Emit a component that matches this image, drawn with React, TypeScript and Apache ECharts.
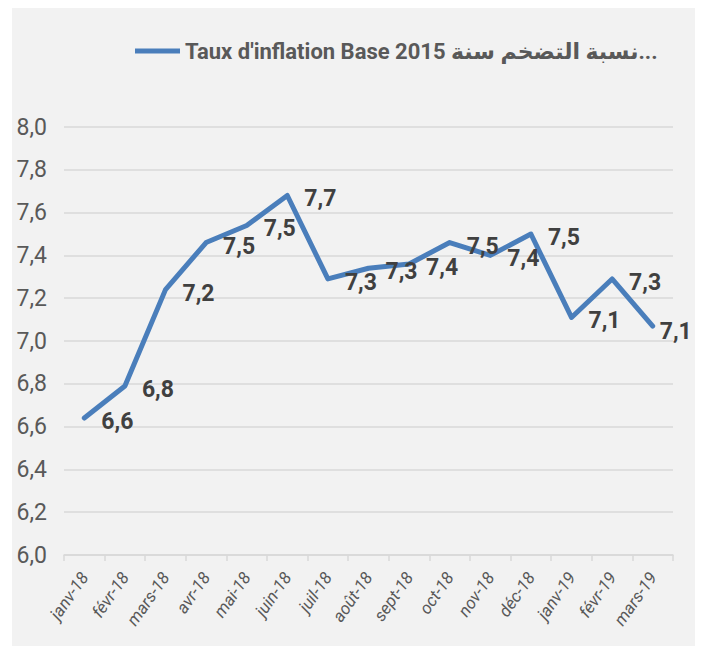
import React, { useEffect, useRef } from "react";
import * as echarts from "echarts";

const categories = [
  "janv-18", "févr-18", "mars-18", "avr-18", "mai-18", "juin-18", "juil-18",
  "août-18", "sept-18", "oct-18", "nov-18", "déc-18", "janv-19", "févr-19", "mars-19",
];
const values = [6.64, 6.79, 7.24, 7.46, 7.54, 7.68, 7.29, 7.34, 7.36, 7.46, 7.4, 7.5, 7.11, 7.29, 7.07];
const dataLabels = ["6,6", "6,8", "7,2", "7,5", "7,5", "7,7", "7,3", "7,3", "7,4", "7,5", "7,4", "7,5", "7,1", "7,3", "7,1"];
const seriesName = "Taux d'inflation Base 2015 نسبة التضخم سنة...";
const yMin = 6;
const yMax = 8;
const yInterval = 0.2;

const FONT = "Roboto, 'DejaVu Sans', sans-serif";

export default function App() {
  const ref = useRef<HTMLDivElement>(null);
  useEffect(() => {
    if (!ref.current) return;
    const chart = echarts.init(ref.current, undefined, { renderer: "svg" });
    const last = values.length - 1;
    chart.setOption({
      animation: false,
      backgroundColor: "#f2f2f2",
      textStyle: { fontFamily: FONT },
      legend: {
        show: true,
        top: 27,
        left: 118,
        icon: "rect",
        itemWidth: 45,
        itemHeight: 5,
        itemGap: 10,
        textStyle: { fontSize: 22, fontWeight: "bold", color: "#595959", fontFamily: FONT },
        data: [seriesName],
      },
      grid: { left: 52, right: 24, top: 119, bottom: 91, containLabel: false },
      xAxis: {
        type: "category",
        data: categories,
        boundaryGap: true,
        axisLine: { show: true, lineStyle: { color: "#d9d9d9", width: 1.5 } },
        axisTick: { show: true, length: 6, lineStyle: { color: "#d9d9d9", width: 1.5 } },
        axisLabel: {
          rotate: 55,
          margin: 19,
          fontSize: 17,
          fontStyle: "italic",
          color: "#595959",
          fontFamily: FONT,
          interval: 0,
        },
      },
      yAxis: {
        type: "value",
        min: yMin,
        max: yMax,
        interval: yInterval,
        axisLine: { show: false },
        axisTick: { show: false },
        splitLine: { show: true, lineStyle: { color: "#d9d9d9", width: 1.5 } },
        axisLabel: {
          margin: 17,
          fontSize: 23,
          color: "#595959",
          fontFamily: FONT,
          formatter: (v: number) => v.toFixed(1).replace(".", ","),
        },
      },
      series: [
        {
          name: seriesName,
          type: "line",
          data: values.map((v, i) =>
            i === last ? { value: v, label: { position: [8, -5] } } : v
          ),
          symbol: "circle",
          symbolSize: 2,
          showSymbol: true,
          color: "#4a7ebb",
          itemStyle: { color: "#4a7ebb" },
          lineStyle: { color: "#4a7ebb", width: 5, cap: "round", join: "round" },
          label: {
            show: true,
            position: [18, -7],
            fontSize: 23,
            fontWeight: "bold",
            color: "#404040",
            fontFamily: FONT,
            formatter: (p: any) => dataLabels[p.dataIndex],
          },
          labelLayout: { hideOverlap: false },
        },
      ],
    });
    return () => chart.dispose();
  }, []);
  return (
    <div
      ref={ref}
      style={{ width: 685, height: 638, marginLeft: 4, background: "#f2f2f2" }}
    />
  );
}
